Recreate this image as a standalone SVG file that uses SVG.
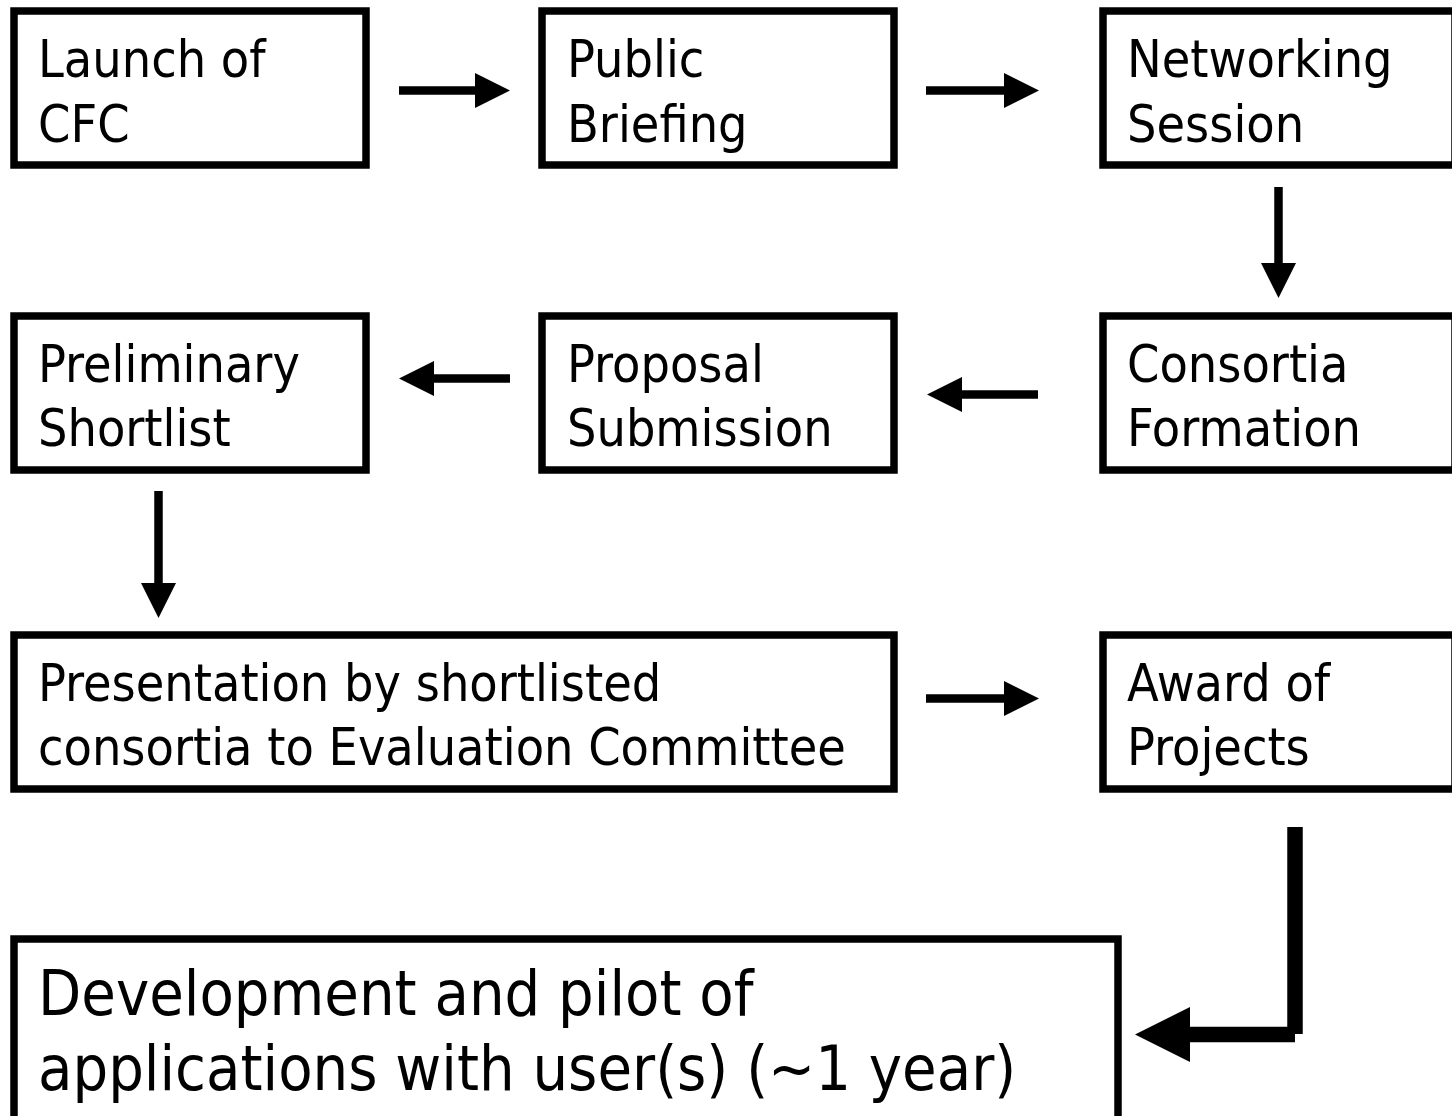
<svg xmlns="http://www.w3.org/2000/svg" width="1452" height="1116" viewBox="0 0 1452 1116">
  <style>
    .box { fill: #ffffff; stroke: #000000; stroke-width: 7.5; }
    .lbl { font-family: "DejaVu Sans Condensed", "DejaVu Sans", Tahoma, sans-serif; font-stretch: condensed; font-size: 51.6px; fill: #000000; }
    .big { font-size: 62.5px; }
    .conn { stroke: #000000; stroke-width: 8.5; fill: none; }
    .thick { stroke: #000000; stroke-width: 15.5; fill: none; }
  </style>
  <defs>
    <marker id="ah" markerUnits="userSpaceOnUse" markerWidth="36" markerHeight="36" refX="0" refY="17.5" orient="auto" overflow="visible">
      <path d="M0,0 L35,17.5 L0,35 Z" fill="#000000"/>
    </marker>
    <marker id="ahBig" markerUnits="userSpaceOnUse" markerWidth="56" markerHeight="56" refX="0" refY="27.5" orient="auto" overflow="visible">
      <path d="M0,0 L55,27.5 L0,55 Z" fill="#000000"/>
    </marker>
  </defs>
  <rect x="0" y="0" width="1452" height="1116" fill="#ffffff"/>

  <g id="n-launch">
    <rect class="box" x="14" y="11" width="352" height="154"/>
    <text class="lbl" x="38" y="77">Launch of</text>
    <text class="lbl" x="38" y="142">CFC</text>
  </g>
  <g id="n-briefing">
    <rect class="box" x="542" y="11" width="352" height="154"/>
    <text class="lbl" x="567" y="77">Public</text>
    <text class="lbl" x="567" y="142">Briefing</text>
  </g>
  <g id="n-networking">
    <rect class="box" x="1103" y="11" width="352" height="154"/>
    <text class="lbl" x="1127" y="77">Networking</text>
    <text class="lbl" x="1127" y="142">Session</text>
  </g>
  <g id="n-shortlist">
    <rect class="box" x="14" y="316" width="352" height="154"/>
    <text class="lbl" x="38" y="382">Preliminary</text>
    <text class="lbl" x="38" y="446">Shortlist</text>
  </g>
  <g id="n-proposal">
    <rect class="box" x="542" y="316" width="352" height="154"/>
    <text class="lbl" x="567" y="382">Proposal</text>
    <text class="lbl" x="567" y="446">Submission</text>
  </g>
  <g id="n-consortia">
    <rect class="box" x="1103" y="316" width="352" height="154"/>
    <text class="lbl" x="1127" y="382">Consortia</text>
    <text class="lbl" x="1127" y="446">Formation</text>
  </g>
  <g id="n-presentation">
    <rect class="box" x="14" y="635" width="880" height="154"/>
    <text class="lbl" x="38" y="701">Presentation by shortlisted</text>
    <text class="lbl" x="38" y="765">consortia to Evaluation Committee</text>
  </g>
  <g id="n-award">
    <rect class="box" x="1103" y="635" width="352" height="154"/>
    <text class="lbl" x="1127" y="701">Award of</text>
    <text class="lbl" x="1127" y="765">Projects</text>
  </g>
  <g id="n-development">
    <rect class="box" x="14" y="939" width="1104" height="200"/>
    <text class="lbl big" x="38" y="1015">Development and pilot of</text>
    <text class="lbl big" x="38" y="1090">applications with user(s) (~1 year)</text>
  </g>

  <g id="connectors">
    <line class="conn" x1="399" y1="90.5" x2="475" y2="90.5" marker-end="url(#ah)"/>
    <line class="conn" x1="926" y1="90.5" x2="1004" y2="90.5" marker-end="url(#ah)"/>
    <line class="conn" x1="1278.5" y1="187" x2="1278.5" y2="263" marker-end="url(#ah)"/>
    <line class="conn" x1="1038" y1="394.5" x2="962" y2="394.5" marker-end="url(#ah)"/>
    <line class="conn" x1="510" y1="378.5" x2="434" y2="378.5" marker-end="url(#ah)"/>
    <line class="conn" x1="158.5" y1="491" x2="158.5" y2="583" marker-end="url(#ah)"/>
    <line class="conn" x1="926" y1="698.5" x2="1004" y2="698.5" marker-end="url(#ah)"/>
    <line class="thick" x1="1295" y1="827" x2="1295" y2="1034"/>
    <line class="thick" x1="1295" y1="1034.5" x2="1190" y2="1034.5" marker-end="url(#ahBig)"/>
  </g>
</svg>
